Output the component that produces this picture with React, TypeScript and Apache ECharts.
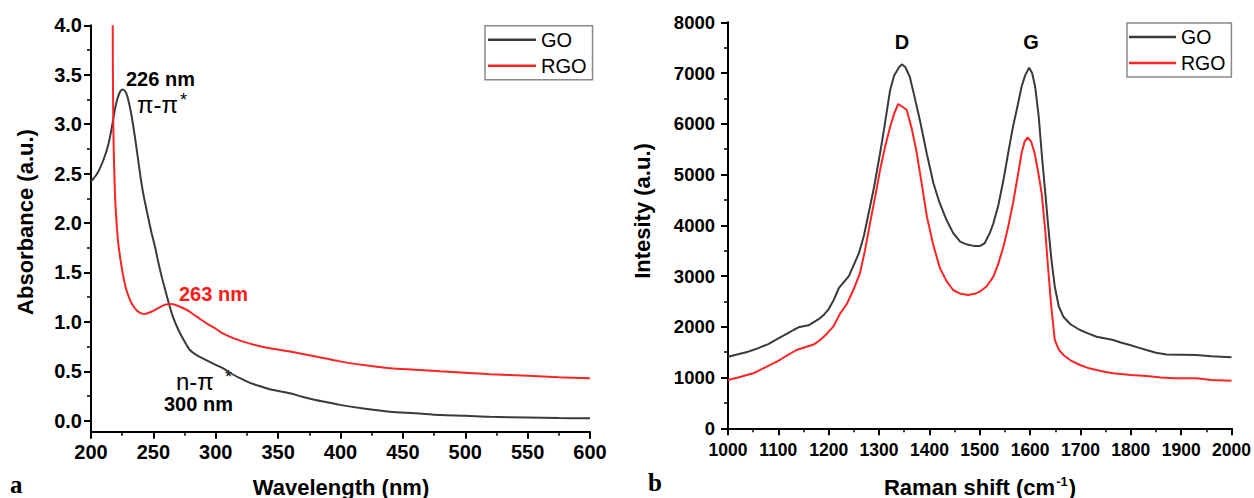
import React, { useEffect, useRef } from "react";
import * as echarts from "echarts";

// ---- UV-Vis (panel a) ----
const uvGoX = [200, 205, 210, 214, 217, 220, 223, 225.5, 228, 230, 232, 234, 236, 238, 240, 242, 244.6, 248, 251.3, 254, 256.6, 260, 262.8, 266, 270, 275, 279.3, 285, 292.7, 300, 306, 312, 319.4, 326, 332.8, 340, 346, 359.5, 370, 380, 390, 399.5, 420, 439.6, 460, 479.7, 500, 519.7, 550, 575, 600];
const uvGoY = [2.42, 2.5, 2.64, 2.8, 2.99, 3.2, 3.32, 3.35, 3.32, 3.24, 3.12, 2.97, 2.8, 2.62, 2.44, 2.29, 2.13, 1.93, 1.76, 1.6, 1.46, 1.3, 1.17, 1.04, 0.92, 0.8, 0.715, 0.66, 0.61, 0.565, 0.53, 0.48, 0.43, 0.39, 0.36, 0.33, 0.31, 0.277, 0.24, 0.21, 0.185, 0.16, 0.12, 0.09, 0.075, 0.058, 0.05, 0.04, 0.032, 0.027, 0.024];
const uvRgoX = [217.4, 217.9, 219.2, 220.5, 221.9, 224, 225.9, 228, 231.3, 235, 239.3, 243, 245.9, 250, 255.3, 260, 264.7, 270, 276.7, 285, 292.7, 300, 306, 315, 327.4, 340, 350, 359.5, 380, 399.5, 420, 439.6, 460, 479.7, 500, 519.7, 550, 575, 600];
const uvRgoY = [4.0, 2.97, 2.3, 2.0, 1.79, 1.6, 1.46, 1.34, 1.22, 1.14, 1.09, 1.08, 1.09, 1.11, 1.15, 1.175, 1.18, 1.16, 1.12, 1.05, 0.985, 0.93, 0.88, 0.83, 0.78, 0.74, 0.72, 0.7, 0.65, 0.6, 0.56, 0.53, 0.515, 0.5, 0.485, 0.47, 0.455, 0.44, 0.43];

// ---- Raman (panel b) ----
const ramanGoX = [1000, 1020, 1040, 1050, 1060, 1080, 1100, 1120, 1130, 1140, 1160, 1180, 1190, 1200, 1210, 1220, 1240, 1260, 1270, 1282, 1290, 1302, 1310, 1322, 1330, 1340, 1345, 1352, 1361, 1370, 1381, 1395, 1408, 1420, 1434, 1447, 1461, 1475, 1490, 1500, 1510, 1520, 1527, 1537, 1547, 1556, 1566, 1575, 1583, 1590, 1598, 1604, 1610, 1617, 1623, 1630, 1636, 1642, 1649, 1657, 1666, 1680, 1699, 1715, 1732, 1750, 1765, 1780, 1798, 1815, 1831, 1850, 1871, 1900, 1930, 1960, 2000];
const ramanGoY = [1410, 1460, 1510, 1543, 1580, 1660, 1773, 1880, 1937, 1990, 2030, 2150, 2232, 2350, 2530, 2760, 3000, 3450, 3800, 4367, 4750, 5419, 5900, 6666, 6950, 7120, 7172, 7120, 6928, 6550, 6075, 5400, 4828, 4450, 4104, 3850, 3677, 3620, 3590, 3590, 3650, 3850, 4039, 4400, 4893, 5400, 5943, 6350, 6731, 6950, 7106, 7000, 6731, 6150, 5419, 4650, 3973, 3350, 2790, 2400, 2199, 2050, 1937, 1870, 1805, 1770, 1740, 1690, 1641, 1590, 1543, 1490, 1455, 1450, 1444, 1420, 1399];
const ramanRgoX = [1000, 1020, 1050, 1070, 1097, 1115, 1136, 1156, 1170, 1183, 1196, 1209, 1222, 1236, 1250, 1262, 1272, 1282, 1292, 1302, 1312, 1322, 1330, 1338, 1346, 1355, 1365, 1375, 1385, 1395, 1408, 1421, 1434, 1447, 1462, 1477, 1490, 1500, 1514, 1527, 1537, 1547, 1556, 1566, 1575, 1583, 1589, 1595, 1602, 1609, 1616, 1623, 1630, 1636, 1642, 1649, 1657, 1666, 1680, 1699, 1715, 1732, 1750, 1765, 1800, 1831, 1860, 1884, 1930, 1960, 2000];
const ramanRgoY = [952, 1000, 1084, 1180, 1313, 1420, 1543, 1608, 1650, 1740, 1860, 2002, 2250, 2450, 2750, 3054, 3500, 4039, 4550, 5090, 5550, 5943, 6200, 6390, 6340, 6272, 5900, 5419, 4800, 4170, 3600, 3153, 2900, 2725, 2650, 2627, 2650, 2692, 2800, 2988, 3250, 3578, 3950, 4434, 4950, 5419, 5650, 5734, 5650, 5419, 5050, 4630, 3900, 3119, 2400, 1740, 1550, 1444, 1340, 1247, 1190, 1149, 1110, 1084, 1050, 1030, 1000, 985, 985, 950, 938];

const seriesNames = ["GO", "RGO"];
const GO_COLOR = "#3a3a3a";
const RGO_COLOR = "#ff2424";
const FONT = "Liberation Sans";

const zip = (xs: number[], ys: number[]) => xs.map((x, i) => [x, ys[i]]);

const axisCommon = (fontSize: number, margin: number, digits: number) => ({
  axisLine: { show: true, onZero: false, lineStyle: { color: "#000", width: 2 } },
  axisTick: { show: true, inside: false, length: 7, lineStyle: { color: "#000", width: 2 } },
  minorTick: { show: true, splitNumber: 2, length: 4, lineStyle: { color: "#000", width: 1.5 } },
  splitLine: { show: false },
  axisLabel: {
    fontSize,
    fontWeight: "bold" as const,
    fontFamily: FONT,
    color: "#000",
    margin,
    showMinLabel: true,
    showMaxLabel: true,
    formatter: (v: number) => v.toFixed(digits),
  },
});

const txt = (text: string, x: number, y: number, size: number, opts: any = {}) => ({
  type: "text",
  x,
  y,
  silent: true,
  style: {
    text,
    fontSize: size,
    fontFamily: opts.family || FONT,
    fontWeight: opts.weight || "normal",
    fill: opts.fill || "#000",
    align: opts.align || "left",
    verticalAlign: "middle",
    lineHeight: opts.lineHeight,
  },
});

export default function App() {
  const ref = useRef<HTMLDivElement>(null);
  useEffect(() => {
    const chart = echarts.init(ref.current!, null, { renderer: "svg" });
    const lineSeries = (name: string, data: number[][], color: string, idx: number, smooth: any) => ({
      type: "line",
      name,
      data,
      xAxisIndex: idx,
      yAxisIndex: idx,
      symbol: "none",
      smooth,
      clip: true,
      color,
      lineStyle: { color, width: 2 },
    });
    const legendCommon = {
      orient: "vertical",
      data: seriesNames,
      icon: "rect",
      itemHeight: 2.5,
      itemGap: 6,
      borderColor: "#8a8a8a",
      borderWidth: 1.5,
      borderRadius: 0,
      selectedMode: false,
    };
    chart.setOption({
      animation: false,
      backgroundColor: "#fff",
      grid: [
        { left: 91, top: 25.3, width: 499, height: 395.4 },
        { left: 728, top: 22.3, width: 503.7, height: 406 },
      ],
      xAxis: [
        { type: "value", gridIndex: 0, min: 200, max: 600, interval: 50, offset: 11, ...axisCommon(20, 10, 0) },
        { type: "value", gridIndex: 1, min: 1000, max: 2000, interval: 100, ...axisCommon(17.5, 13, 0) },
      ],
      yAxis: [
        { type: "value", gridIndex: 0, min: 0, max: 4, interval: 0.5, ...axisCommon(20, 9, 1) },
        { type: "value", gridIndex: 1, min: 0, max: 8000, interval: 1000, ...axisCommon(18.5, 13, 0) },
      ],
      legend: [
        {
          ...legendCommon,
          left: 485,
          top: 25.7,
          itemWidth: 48,
          padding: [4, 6, 4, 3],
          textStyle: { fontSize: 20, fontFamily: FONT, color: "#000" },
        },
        {
          ...legendCommon,
          left: 1127,
          top: 23,
          itemWidth: 47,
          padding: [4, 6, 4, 2],
          textStyle: { fontSize: 19.5, fontFamily: FONT, color: "#000" },
        },
      ],
      series: [
        lineSeries("GO", zip(uvGoX, uvGoY), GO_COLOR, 0, 0.3),
        lineSeries("RGO", zip(uvRgoX, uvRgoY), RGO_COLOR, 0, 0.3),
        lineSeries("GO", zip(ramanGoX, ramanGoY), GO_COLOR, 1, false),
        lineSeries("RGO", zip(ramanRgoX, ramanRgoY), RGO_COLOR, 1, false),
      ],
      graphic: [
        { type: "line", silent: true, shape: { x1: 91, y1: 419.7, x2: 91, y2: 432.7 }, style: { stroke: "#000", lineWidth: 2 } },
        // axis titles
        { ...txt("Absorbance (a.u.)", 25, 222, 22, { weight: "bold", align: "center" }), rotation: Math.PI / 2 },
        { ...txt("Intesity (a.u.)", 642, 211, 22, { weight: "bold", align: "center" }), rotation: Math.PI / 2 },
        txt("Wavelength (nm)", 341, 487, 22, { weight: "bold", align: "center" }),
        {
          type: "text",
          x: 980,
          y: 487,
          silent: true,
          style: {
            text: "{m|Raman shift (cm}{s|-1}{m|)}",
            align: "center",
            verticalAlign: "middle",
            rich: {
              m: { fontSize: 22, fontWeight: "bold", fontFamily: FONT, fill: "#000", lineHeight: 24 },
              s: { fontSize: 13, fontWeight: "bold", fontFamily: FONT, fill: "#000", verticalAlign: "top", lineHeight: 24, padding: [0, 1, 10, 1] },
            },
          },
        },
        // panel letters
        txt("a", 10, 484, 25, { weight: "bold", family: "Liberation Serif" }),
        txt("b", 648, 482, 25, { weight: "bold", family: "Liberation Serif" }),
        // annotations panel a
        txt("226 nm", 126, 79, 20, { weight: "bold", lineHeight: 18 }),
        txt("π-π", 137, 104, 24, { lineHeight: 18 }),
        txt("*", 180, 100, 18, { lineHeight: 12 }),
        txt("263 nm", 179, 294, 20, { weight: "bold", fill: "#ff1a1a" }),
        txt("n-π", 176, 381, 24, { lineHeight: 18 }),
        txt("*", 225, 377, 18, { lineHeight: 12 }),
        txt("300 nm", 164, 404, 20, { weight: "bold", lineHeight: 18 }),
        // annotations panel b
        txt("D", 902, 42, 20, { weight: "bold", align: "center" }),
        txt("G", 1031, 42, 20, { weight: "bold", align: "center" }),
      ],
    });
    return () => chart.dispose();
  }, []);
  return <div ref={ref} style={{ position: "absolute", left: 0, top: 0, width: 1254, height: 498 }} />;
}
